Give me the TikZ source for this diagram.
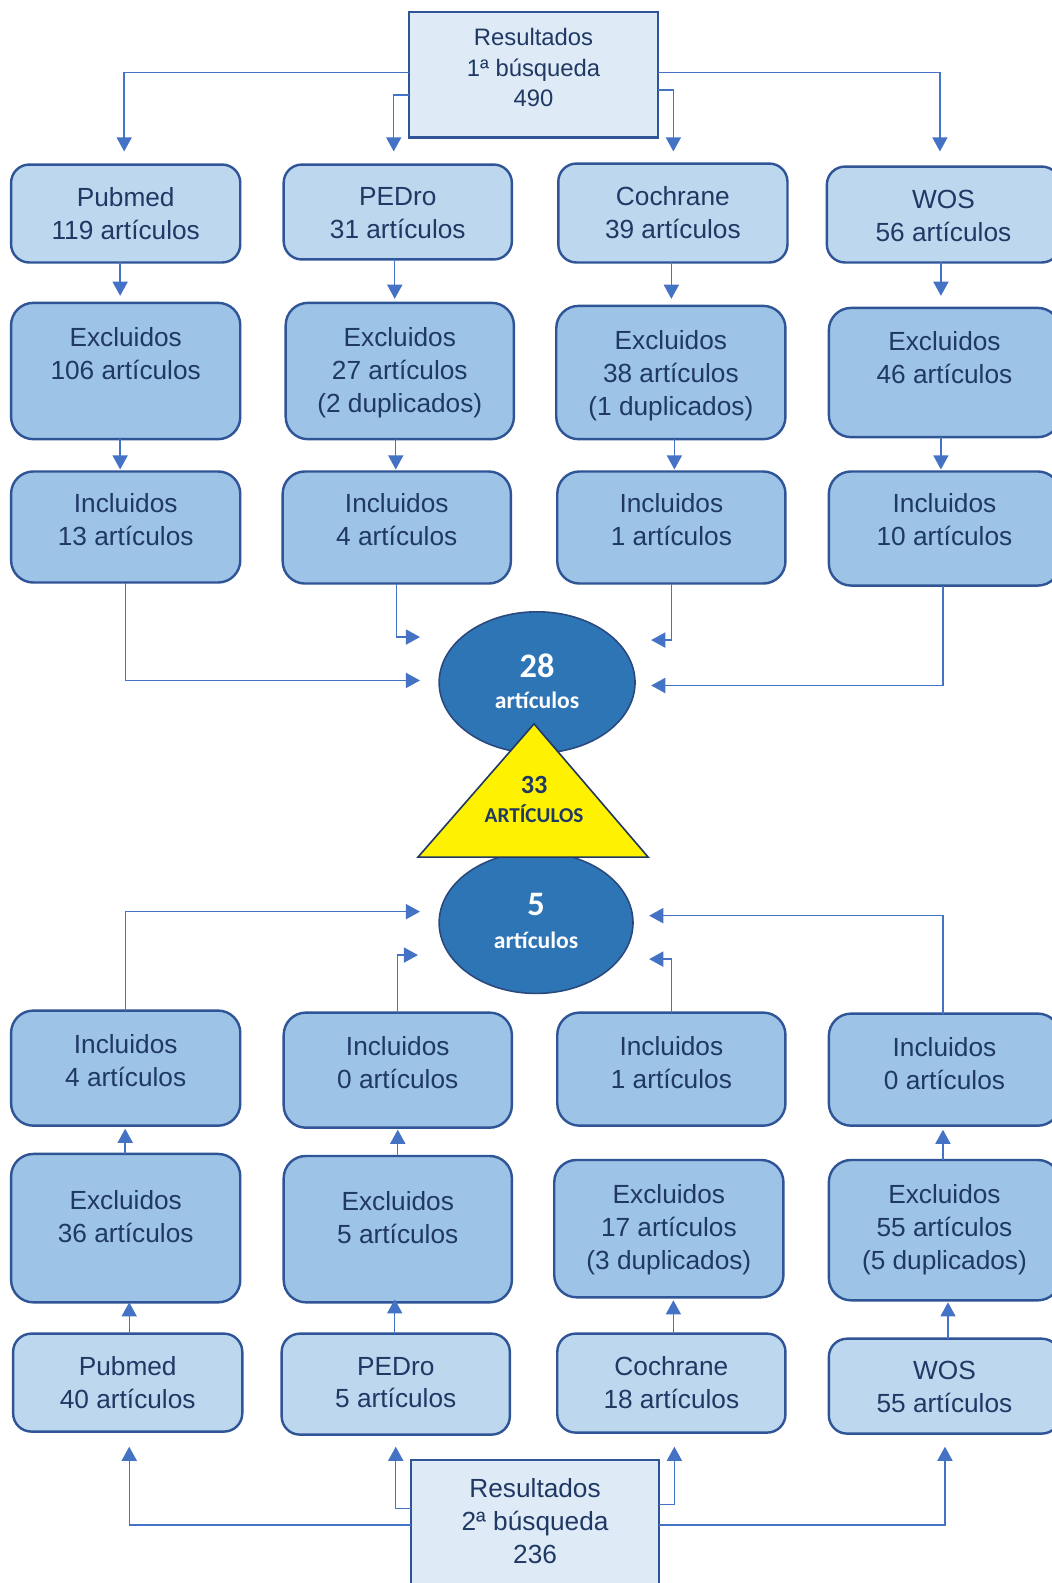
\documentclass[tikz,border=0pt]{standalone}
\usepackage{fontspec}
\setmainfont{Liberation Sans}
\newfontfamily\calfont{Carlito}
\usetikzlibrary{arrows.meta,shapes.geometric}
\definecolor{txtc}{HTML}{1F3864}
\definecolor{lightb}{HTML}{BDD7EE}
\definecolor{midb}{HTML}{9DC3E6}
\definecolor{resb}{HTML}{DEEBF7}
\definecolor{bord}{HTML}{2F5597}
\definecolor{arrc}{HTML}{4472C4}
\definecolor{ellf}{HTML}{2E75B6}
\definecolor{elld}{HTML}{2A4A7F}
\definecolor{trid}{HTML}{203864}
\newcommand\flowbox[8]{%
  \node[#2, minimum width={0.5pt*(#5-#3)}, minimum height={0.5pt*(#6-#4)}] (#1) at ({(#3+#5)/2},{(#4+#6)/2}) {};
  \node[txt] (#1t) at ({(#3+#5)/2},#8) {#7};}
\begin{document}
\begin{tikzpicture}[x=0.5pt,y=-0.5pt,
  boxbase/.style={draw=bord, line width=1.2pt, inner sep=0pt, outer sep=0pt},
  lbox/.style={boxbase, fill=lightb, rounded corners=9pt},
  mbox/.style={boxbase, fill=midb, rounded corners=11pt},
  rbox/.style={boxbase, fill=resb},
  txt/.style={text=txtc, align=center, font=\fontsize{13}{16.3}\selectfont, inner sep=0pt},
  rtxt/.style={text=txtc, align=center, font=\fontsize{11.8}{15}\selectfont, inner sep=0pt},
  arr/.style={draw=arrc, line width=0.7pt, -{Triangle[width=7.5pt,length=7pt]}},
  ell/.style={ellipse, draw=elld, fill=ellf, line width=0.8pt, inner sep=0pt},
  etxtbig/.style={text=white, font=\calfont\bfseries\fontsize{17}{20}\selectfont, inner sep=0pt},
  etxtsm/.style={text=white, font=\calfont\bfseries\fontsize{11.7}{14}\selectfont, inner sep=0pt},
  tri/.style={draw=trid, fill=yellow, line width=0.8pt, line join=miter},
  ttxtbig/.style={text=txtc, font=\calfont\bfseries\fontsize{13}{15}\selectfont, inner sep=0pt},
  ttxtsm/.style={text=txtc, font=\calfont\bfseries\fontsize{10.5}{12}\selectfont, inner sep=0pt}]
\fill[white] (0,0) rectangle (1042,1568);
\useasboundingbox (0,0) rectangle (1042,1568);

% top results box
\node[rbox, minimum width=123.5pt, minimum height=62pt] (R1) at (528.5,74) {};
\node[rtxt] (R1t) at (528.5,67) {Resultados\\1ª búsqueda\\490};

% row 1
\flowbox{P1}{lbox}{11}{163}{238}{260}{Pubmed\\119 artículos}{211.5}
\flowbox{D1}{lbox}{281}{163}{507}{257}{PEDro\\31 artículos}{211}
\flowbox{C1}{lbox}{553}{162}{780}{260}{Cochrane\\39 artículos}{210.5}
\flowbox{W1}{lbox}{819}{165}{1050}{260}{WOS\\56 artículos}{213.5}
% row 2
\flowbox{P2}{mbox}{11}{300}{238}{435}{Excluidos\\106 artículos}{350}
\flowbox{D2}{mbox}{283}{300}{509}{435}{Excluidos\\27 artículos\\(2 duplicados)}{369}
\flowbox{C2}{mbox}{551}{303}{778}{435}{Excluidos\\38 artículos\\(1 duplicados)}{372}
\flowbox{W2}{mbox}{821}{305}{1050}{433}{Excluidos\\46 artículos}{354}
% row 3
\flowbox{P3}{mbox}{11}{467}{238}{577}{Incluidos\\13 artículos}{515}
\flowbox{D3}{mbox}{280}{467}{506}{578}{Incluidos\\4 artículos}{515}
\flowbox{C3}{mbox}{552}{467}{778}{578}{Incluidos\\1 artículos}{515}
\flowbox{W3}{mbox}{821}{467}{1050}{580}{Incluidos\\10 artículos}{515}

% lower rows
\flowbox{P4}{mbox}{11}{1001}{238}{1115}{Incluidos\\4 artículos}{1051}
\flowbox{D4}{mbox}{281}{1003}{507}{1117}{Incluidos\\0 artículos}{1052.5}
\flowbox{C4}{mbox}{552}{1003}{778}{1115}{Incluidos\\1 artículos}{1052.5}
\flowbox{W4}{mbox}{821}{1004}{1050}{1115}{Incluidos\\0 artículos}{1053.5}

\flowbox{P5}{mbox}{11}{1143}{238}{1290}{Excluidos\\36 artículos}{1205}
\flowbox{D5}{mbox}{281}{1145}{507}{1290}{Excluidos\\5 artículos}{1206.5}
\flowbox{C5}{mbox}{549}{1149}{776}{1285}{Excluidos\\17 artículos\\(3 duplicados)}{1218}
\flowbox{W5}{mbox}{821}{1149}{1050}{1288}{Excluidos\\55 artículos\\(5 duplicados)}{1218}

\flowbox{P6}{lbox}{13}{1321}{240}{1418}{Pubmed\\40 artículos}{1369.5}
\flowbox{D6}{lbox}{279}{1321}{505}{1421}{PEDro\\5 artículos}{1369.5}
\flowbox{C6}{lbox}{552}{1321}{778}{1419}{Cochrane\\18 artículos}{1369.5}
\flowbox{W6}{lbox}{821}{1326}{1050}{1420}{WOS\\55 artículos}{1373.5}

% bottom results box
\node[rbox, minimum width=123pt, minimum height=64.5pt] (R2) at (530,1510.5) {};
\node[txt] (R2t) at (530,1507) {Resultados\\2ª búsqueda\\236};

% arrows from top results
\coordinate (ta1) at (123,150); \draw[arr] ([yshift=1pt]R1.west) -| (ta1);
\coordinate (ta2) at (390,150); \draw[arr] ([yshift=-10pt]R1.west) -| (ta2);
\coordinate (ta3) at (667,150); \draw[arr] ([yshift=-7.5pt]R1.east) -| (ta3);
\coordinate (ta4) at (931,150); \draw[arr] ([yshift=1pt]R1.east) -| (ta4);

% row1 -> row2 -> row3
\foreach \n/\x/\y in {P1/119/293, D1/391/296, C1/665/296, W1/932/293,
                      P2/119/465, D2/392/465, C2/668/465, W2/932/465}{
  \coordinate (t\n) at (\x,\y);
  \draw[arr] (\n.south -| t\n) -- (t\n);
}

% row3 -> ellipse 28
\coordinate (q1) at (416,674); \draw[arr] (P3.south) |- (q1);
\coordinate (q2) at (416,631); \draw[arr] (D3.south) |- (q2);
\coordinate (q3) at (645,634); \draw[arr] (C3.south) |- (q3);
\coordinate (q4) at (645,679); \draw[arr] ([xshift=-0.75pt]W3.south) |- (q4);

% lower incluidos -> ellipse 5
\coordinate (s1) at (416,903); \draw[arr] (P4.north) |- (s1);
\coordinate (s2) at (414,946); \draw[arr] (D4.north) |- (s2);
\coordinate (s3) at (643,950); \draw[arr] (C4.north) |- (s3);
\coordinate (s4) at (643,907); \draw[arr] ([xshift=-0.75pt]W4.north) |- (s4);

% upward arrows
\foreach \n/\x/\y in {P5/124/1118, D5/394/1119, W5/934/1119,
                      P6/128/1290, D6/391/1287, C6/667/1288, W6/939/1290}{
  \coordinate (u\n) at (\x,\y);
  \draw[arr] (\n.north -| u\n) -- (u\n);
}

% arrows from bottom results
\coordinate (b1) at (128,1433); \draw[arr] (R2.west) -| (b1);
\coordinate (b2) at (392,1433); \draw[arr] ([yshift=8.25pt]R2.west) -| (b2);
\coordinate (b3) at (668,1433); \draw[arr] ([yshift=10.25pt]R2.east) -| (b3);
\coordinate (b4) at (936,1433); \draw[arr] (R2.east) -| (b4);

% ellipses
\node[ell, minimum width=97pt, minimum height=70pt] (E28) at (532,676) {};
\node[etxtbig] (E28a) at (532,659) {28};
\node[etxtsm] (E28b) at (532,694) {artículos};
\node[ell, minimum width=96pt, minimum height=70pt] (E5) at (531,914) {};
\node[etxtbig] (E5a) at (531,896) {5};
\node[etxtsm] (E5b) at (531,931) {artículos};

% triangle
\coordinate (Ta) at (529,717);
\coordinate (Tb) at (642,849);
\coordinate (Tc) at (414,849);
\draw[tri] (Ta) -- (Tb) -- (Tc) -- cycle;
\node[ttxtbig] (T33) at (529,778) {33};
\node[ttxtsm] (Tart) at (529,806) {ARTÍCULOS};
\end{tikzpicture}
\end{document}
